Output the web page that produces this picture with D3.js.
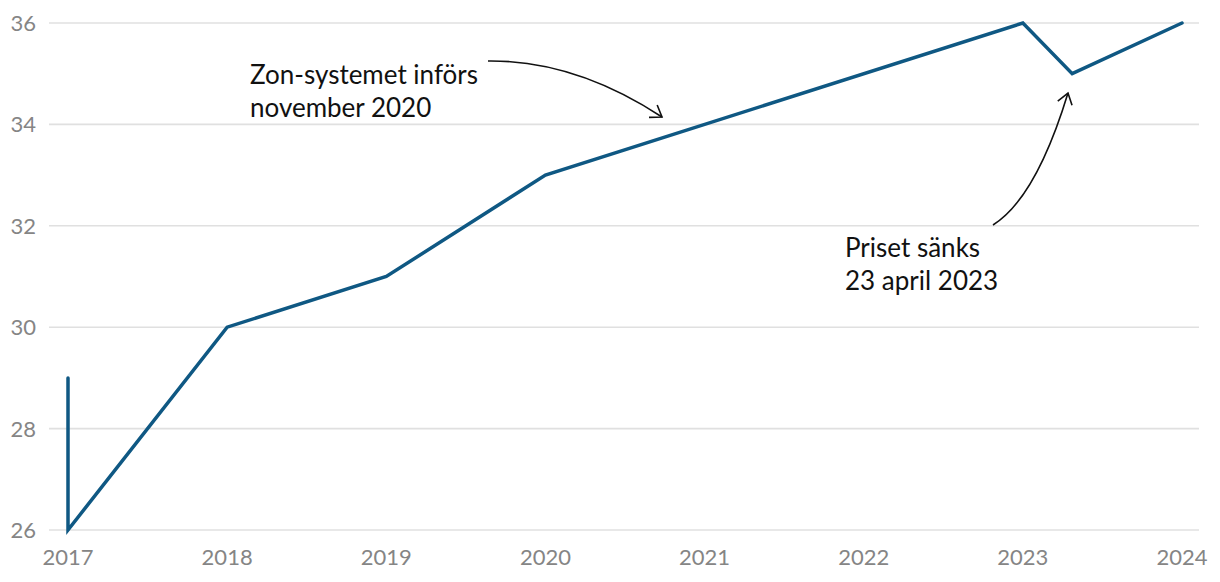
<!DOCTYPE html>
<html><head><meta charset="utf-8">
<script src="https://cdn.jsdelivr.net/npm/d3@7"></script>
<style>body{margin:0;background:#fff}svg{display:block}</style>
</head><body><svg id="c" width="1220" height="582"></svg>
<script>
const years = [2017, 2017, 2018, 2019, 2020, 2023, 2023.31, 2024];
const prices = [29, 26, 30, 31, 33, 36, 35, 36];
const xTicks = [2017, 2018, 2019, 2020, 2021, 2022, 2023, 2024];
const yTicks = [26, 28, 30, 32, 34, 36];
const notes = [
  {lines: ["Zon-systemet införs", "november 2020"]},
  {lines: ["Priset sänks", "23 april 2023"]}
];

const svg = d3.select("#c");
const x = d3.scaleLinear().domain([2017, 2024]).range([68, 1182]);
const y = d3.scaleLinear().domain([26, 36]).range([530, 23]);
const font = "Lato, 'Open Sans', sans-serif";

// grid
svg.append("g").selectAll("line").data(yTicks).join("line")
  .attr("x1", 49).attr("x2", 1199)
  .attr("y1", d => y(d)).attr("y2", d => y(d))
  .attr("stroke", "#e0e0e0").attr("stroke-width", 1.6);

svg.append("g").selectAll("text").data(yTicks).join("text")
  .attr("x", 36).attr("y", d => y(d)).attr("dy", "0.36em")
  .attr("text-anchor", "end").attr("font-family", font).attr("font-size", 22)
  .attr("fill", "#858585").text(d => d);

svg.append("g").selectAll("text").data(xTicks).join("text")
  .attr("x", d => x(d)).attr("y", 565)
  .attr("text-anchor", "middle").attr("font-family", font).attr("font-size", 22)
  .attr("fill", "#858585").text(d => d);

const pts = years.map((v, i) => [v, prices[i]]);
svg.append("path").datum(pts)
  .attr("d", d3.line().x(d => x(d[0])).y(d => y(d[1])))
  .attr("fill", "none").attr("stroke", "#0f5883").attr("stroke-width", 3.5)
  .attr("stroke-linejoin", "miter").attr("stroke-linecap", "round");

// annotations
const ann = [
  {tx: 250, ty: 84, p0: [488, 61], c: [575, 60], p2: [662, 117]},
  {tx: 845, ty: 257, p0: [993, 225], c: [1036, 198], p2: [1068, 93]}
];
ann.forEach((a, i) => {
  const t = svg.append("text").attr("font-family", font).attr("font-size", 26).attr("fill", "#111");
  notes[i].lines.forEach((l, j) => t.append("tspan").attr("x", a.tx).attr("y", a.ty + j * 33).text(l));
  const p = d3.path();
  p.moveTo(...a.p0); p.quadraticCurveTo(...a.c, ...a.p2);
  svg.append("path").attr("d", p.toString()).attr("fill", "none").attr("stroke", "#111").attr("stroke-width", 1.6);
  const th = Math.atan2(a.p2[1] - a.c[1], a.p2[0] - a.c[0]);
  const L = 13, da = 35 * Math.PI / 180;
  const h = d3.path();
  h.moveTo(a.p2[0] - L * Math.cos(th + da), a.p2[1] - L * Math.sin(th + da));
  h.lineTo(...a.p2);
  h.lineTo(a.p2[0] - L * Math.cos(th - da), a.p2[1] - L * Math.sin(th - da));
  svg.append("path").attr("d", h.toString()).attr("fill", "none").attr("stroke", "#111").attr("stroke-width", 1.6);
});
</script></body></html>
